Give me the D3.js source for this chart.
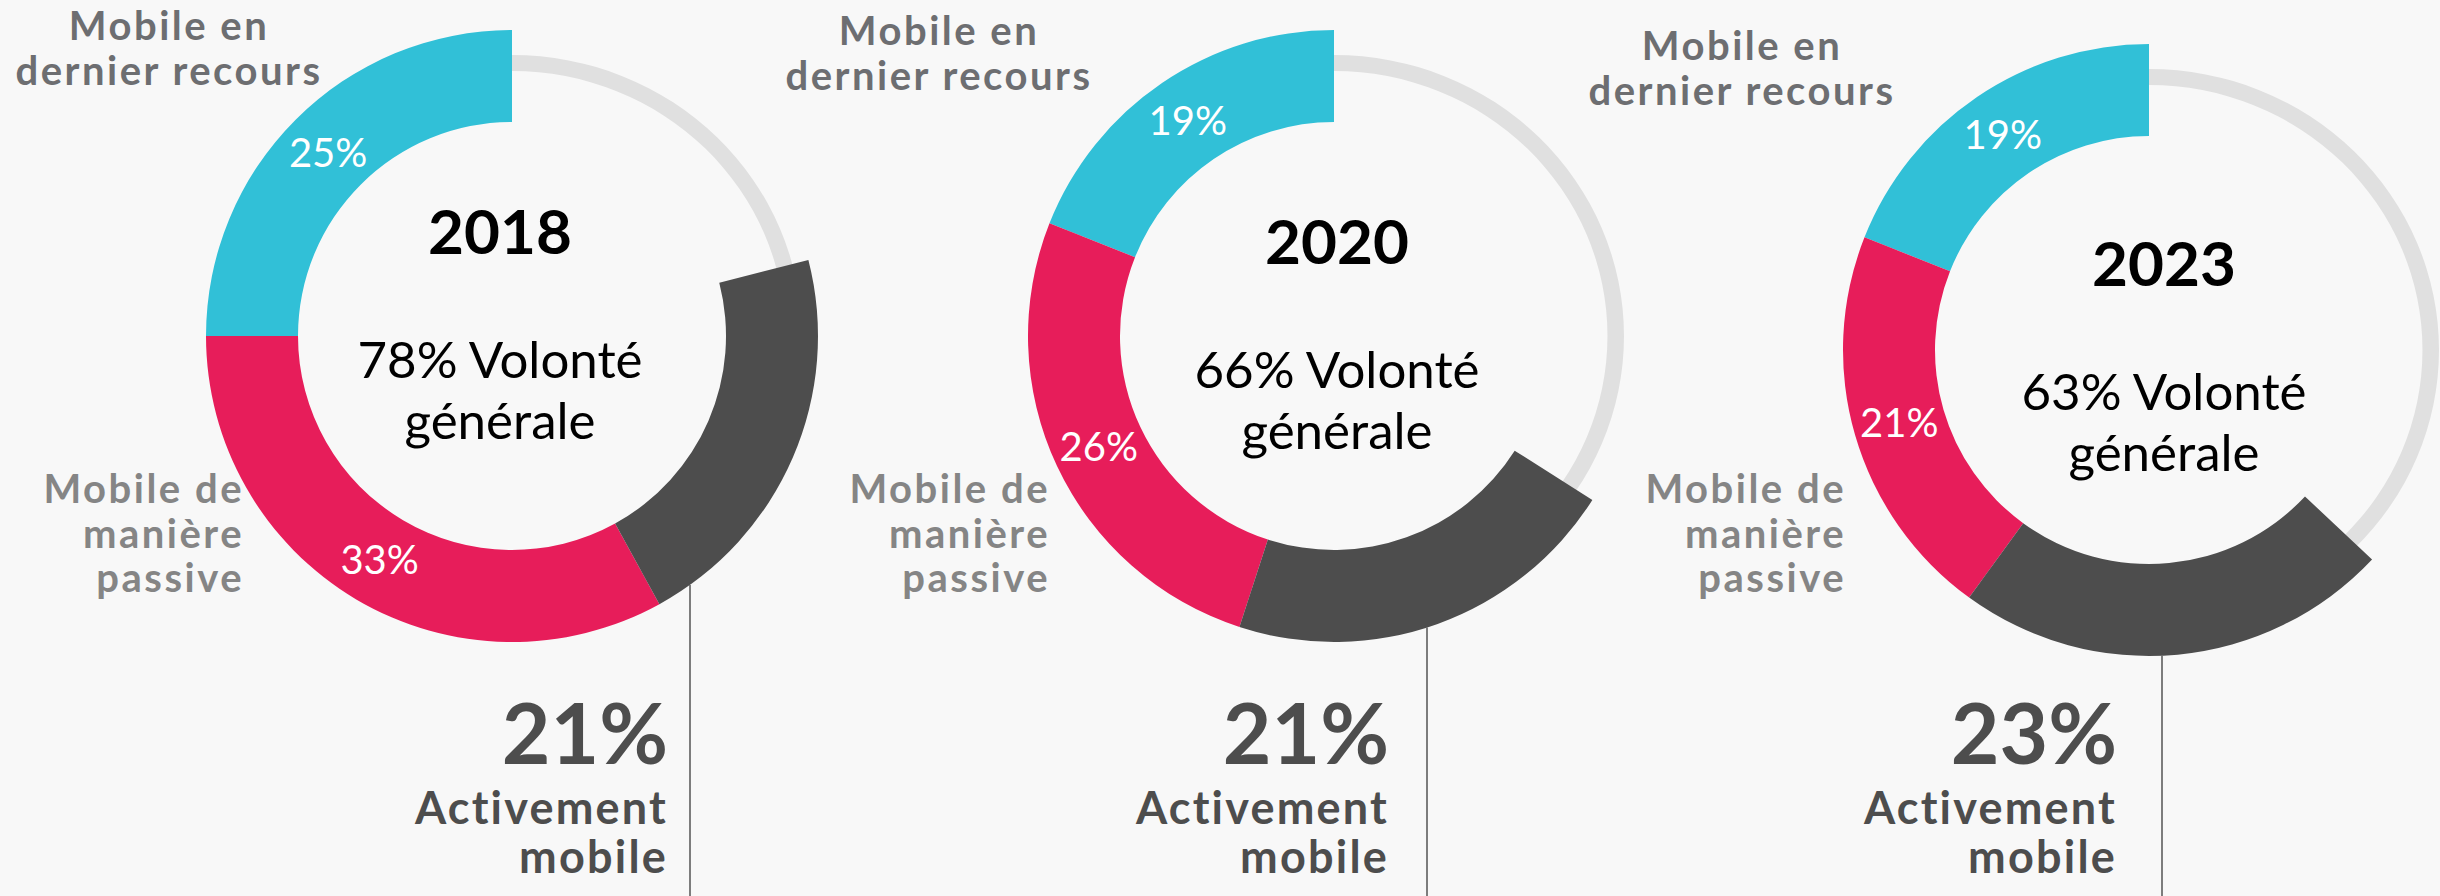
<!DOCTYPE html>
<html>
<head>
<meta charset="utf-8">
<script src="https://cdn.jsdelivr.net/npm/d3@7"></script>
<style>
  html, body { margin: 0; padding: 0; background: #f8f8f8; }
  svg { display: block; font-family: Lato, "Noto Sans", sans-serif; }
</style>
</head>
<body>
<div id="chart"></div>
<script>
// data
var years = ['2018', '2020', '2023'];
var dernierRecours = [25, 19, 19];
var passive = [33, 26, 21];
var actif = [21, 21, 23];
var volonte = [78, 66, 63];

var labelTop = ['Mobile en', 'dernier recours'];
var labelPassive = ['Mobile de', 'manière', 'passive'];
var labelActif = ['Activement', 'mobile'];

// layout, one entry per donut
var centers = [[512, 336], [1334, 336], [2149, 350]];
var midText = [[-12, -82], [3, -72], [15, -64]];
var topLabel = [[169, 40], [939, 45], [1742, 60]];
var passiveX = [244, 1050, 1846];
var actifX = [668, 1389, 2117];
var lineX = [690, 1427, 2162];

var W = 2440, H = 896;
var rIn = 214, rOut = 306;
var colors = ['#31c0d7', '#e71d5a', '#4d4d4d'];

var svg = d3.select('#chart').append('svg')
  .attr('width', W)
  .attr('height', H);

svg.append('rect').attr('width', W).attr('height', H).attr('fill', '#f8f8f8');

var pie = d3.pie()
  .sort(null)
  .startAngle(0)
  .endAngle(-2 * Math.PI)
  .value(function(d) { return d; });

var arc = d3.arc().innerRadius(rIn).outerRadius(rOut);
var track = d3.arc().innerRadius(265).outerRadius(281).startAngle(0).endAngle(2 * Math.PI);

years.forEach(function(year, i) {
  var cx = centers[i][0], cy = centers[i][1];
  var vals = [dernierRecours[i], passive[i], actif[i]];
  var rest = 100 - d3.sum(vals);
  var slices = pie(vals.concat([rest])).slice(0, 3);

  var g = svg.append('g').attr('transform', 'translate(' + cx + ',' + cy + ')');

  // thin grey track behind
  g.append('path')
    .attr('d', track())
    .attr('transform', 'scale(1.032,1)')
    .attr('fill', '#e0e0e0');

  g.selectAll('path.seg')
    .data(slices)
    .enter().append('path')
    .attr('class', 'seg')
    .attr('d', arc)
    .attr('fill', function(d, k) { return colors[k]; });

  // percentages inside cyan and red
  g.selectAll('text.pct')
    .data(slices.slice(0, 2))
    .enter().append('text')
    .attr('class', 'pct')
    .attr('transform', function(d) { return 'translate(' + arc.centroid(d) + ')'; })
    .attr('dy', '0.36em')
    .attr('text-anchor', 'middle')
    .attr('fill', '#fff')
    .attr('font-size', 40)
    .text(function(d) { return d.data + '%'; });

  // center text
  var mx = cx + midText[i][0];
  svg.append('text')
    .attr('x', mx).attr('y', cy + midText[i][1])
    .attr('text-anchor', 'middle')
    .attr('font-size', 62).attr('font-weight', 'bold')
    .attr('fill', '#000')
    .text(year);
  svg.append('text')
    .attr('x', mx).attr('y', cy + midText[i][1] + 124)
    .attr('text-anchor', 'middle')
    .attr('font-size', 51)
    .attr('fill', '#000')
    .text(volonte[i] + '% Volonté');
  svg.append('text')
    .attr('x', mx).attr('y', cy + midText[i][1] + 185)
    .attr('text-anchor', 'middle')
    .attr('font-size', 51)
    .attr('fill', '#000')
    .text('générale');

  // top-left label
  svg.append('g').selectAll('text')
    .data(labelTop)
    .enter().append('text')
    .attr('x', topLabel[i][0])
    .attr('y', function(d, k) { return topLabel[i][1] + k * 44.5; })
    .attr('text-anchor', 'middle')
    .attr('font-size', 40).attr('font-weight', 'bold')
    .attr('letter-spacing', 2.5)
    .attr('fill', '#6d6e71')
    .text(function(d) { return d; });

  // passive label
  svg.append('g').selectAll('text')
    .data(labelPassive)
    .enter().append('text')
    .attr('x', passiveX[i])
    .attr('y', function(d, k) { return 503 + k * 44.5; })
    .attr('text-anchor', 'end')
    .attr('font-size', 40).attr('font-weight', 'bold')
    .attr('letter-spacing', 2.5)
    .attr('fill', '#858585')
    .text(function(d) { return d; });

  // actif callout
  var dx = lineX[i] - cx;
  svg.append('line')
    .attr('x1', lineX[i]).attr('x2', lineX[i])
    .attr('y1', cy + Math.sqrt(rOut * rOut - dx * dx))
    .attr('y2', H)
    .attr('stroke', '#555')
    .attr('stroke-width', 1.5);

  svg.append('text')
    .attr('x', actifX[i]).attr('y', 764)
    .attr('text-anchor', 'end')
    .attr('font-size', 84).attr('font-weight', 'bold')
    .attr('fill', '#4d4d4d')
    .text(actif[i] + '%');

  svg.append('g').selectAll('text')
    .data(labelActif)
    .enter().append('text')
    .attr('x', actifX[i])
    .attr('y', function(d, k) { return 824 + k * 49; })
    .attr('text-anchor', 'end')
    .attr('font-size', 45).attr('font-weight', 'bold')
    .attr('letter-spacing', 2.2)
    .attr('fill', '#4d4d4d')
    .text(function(d) { return d; });
});
</script>
</body>
</html>
